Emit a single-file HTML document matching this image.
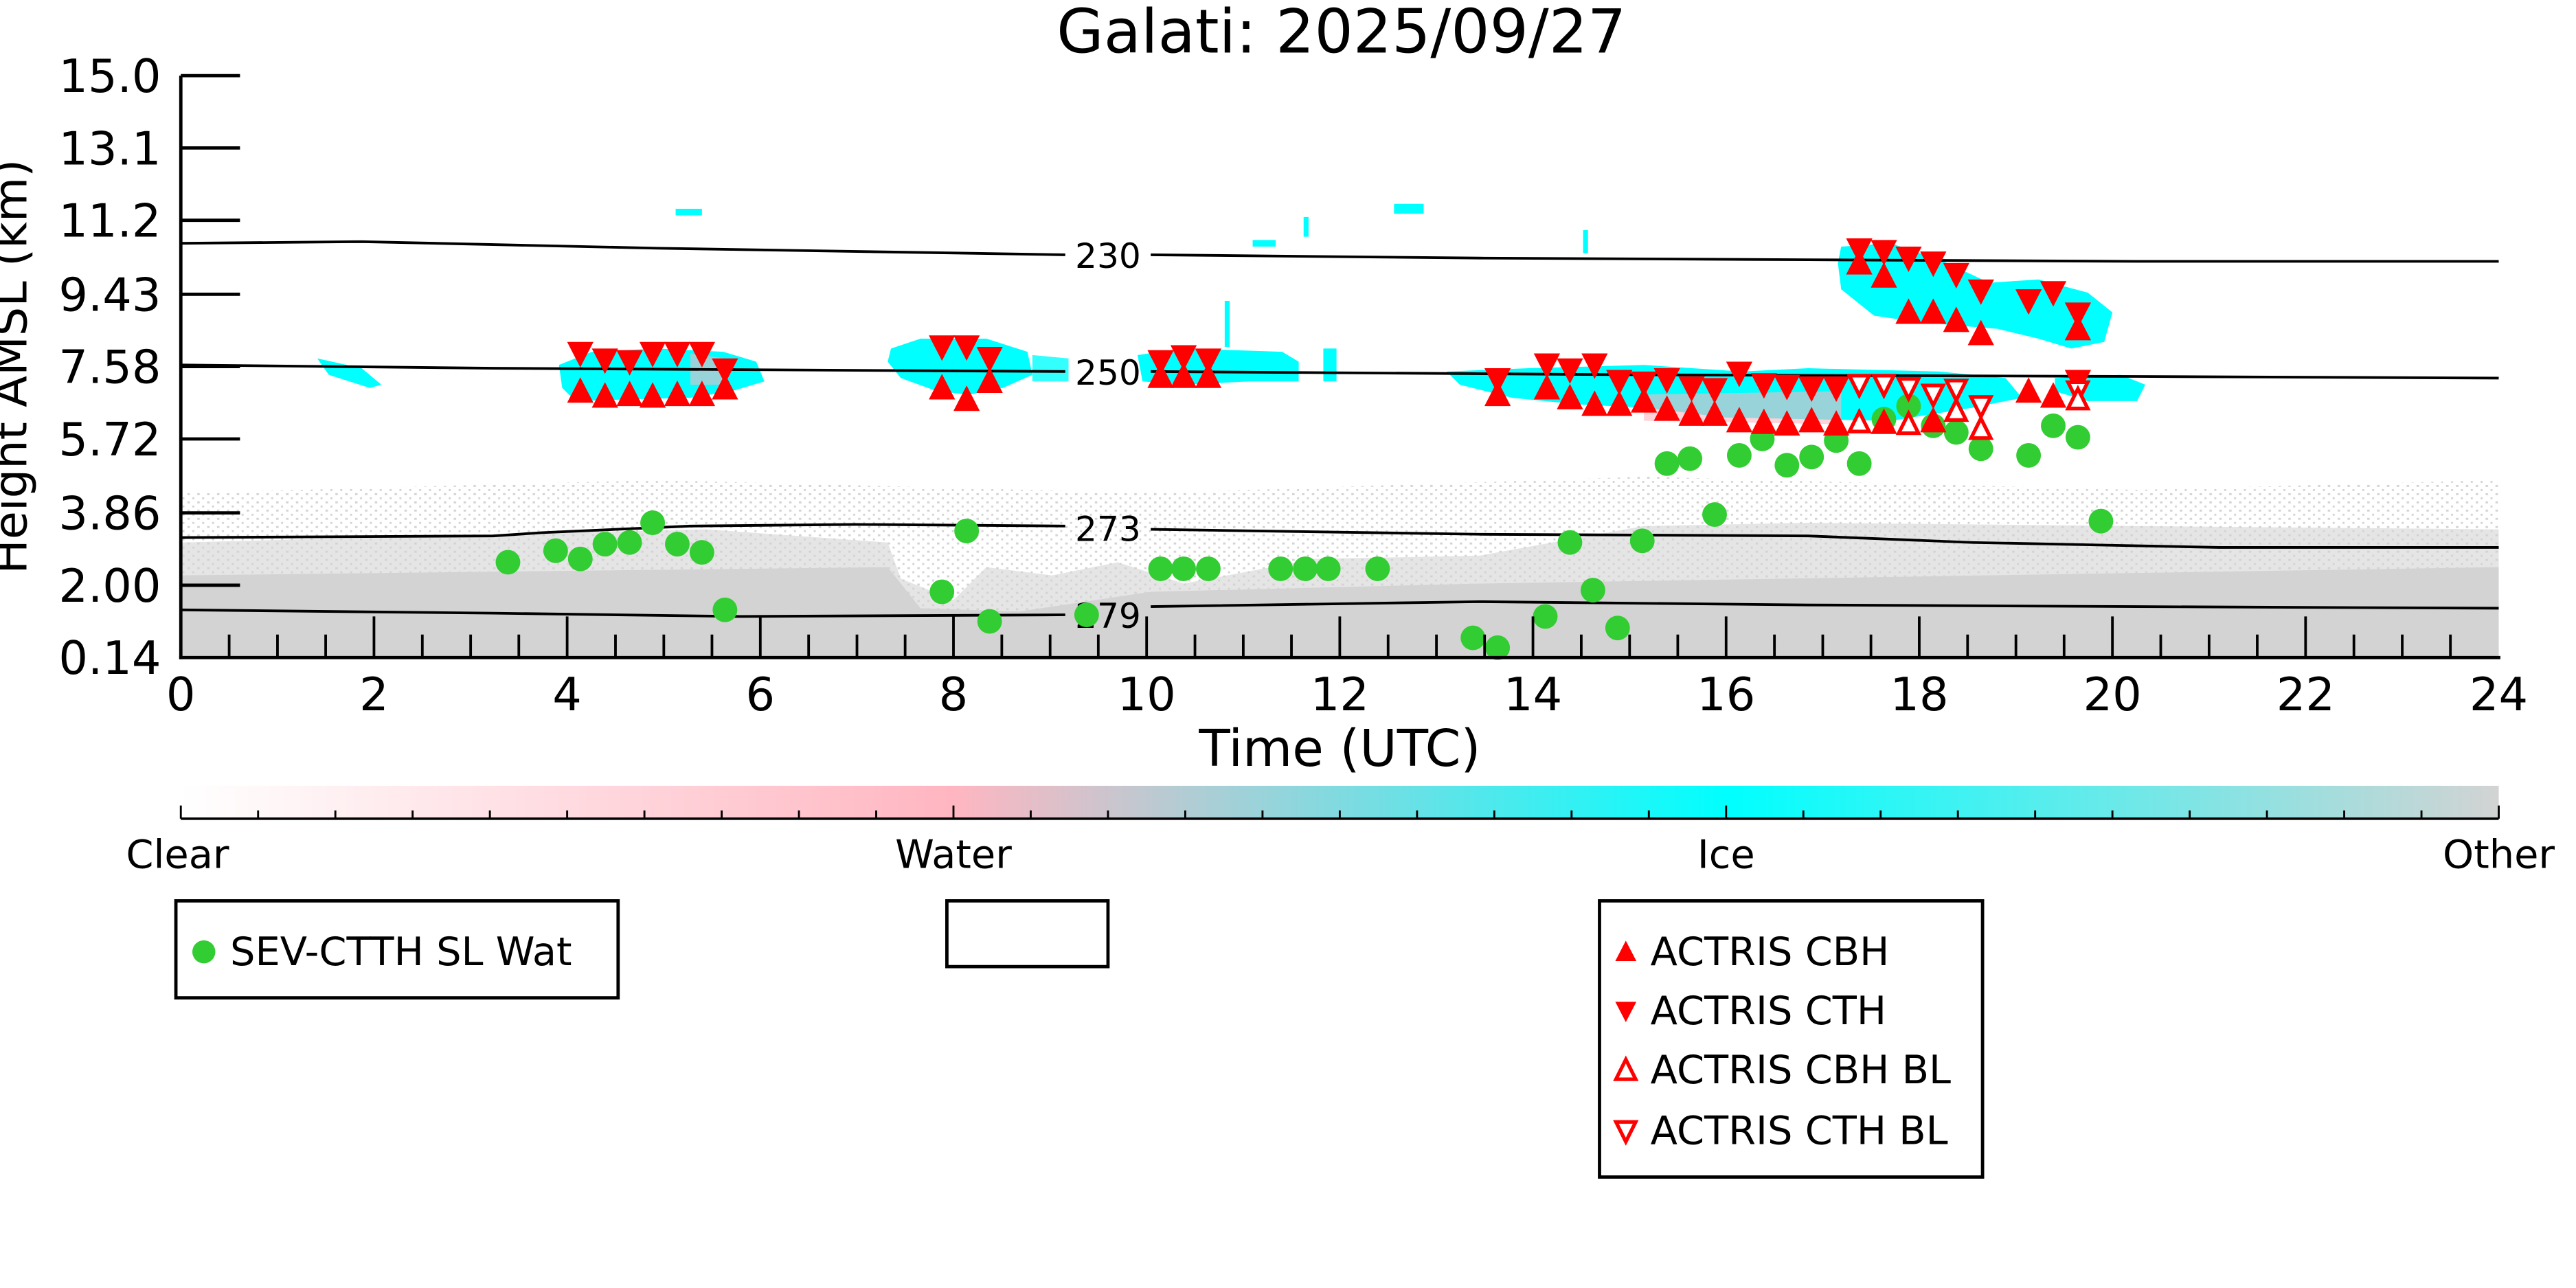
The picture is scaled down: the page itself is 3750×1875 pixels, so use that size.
<!DOCTYPE html>
<html><head><meta charset="utf-8"><style>
html,body{margin:0;padding:0;background:#fff;}
svg{display:block;}
text{font-family:"DejaVu Sans","Liberation Sans",sans-serif;}
</style></head><body>
<svg width="3750" height="1875" viewBox="0 0 1567 783.5" preserveAspectRatio="none" xmlns="http://www.w3.org/2000/svg">
<defs>
<path id="u" d="M0,-8.5 L8,7 L-8,7Z" fill="#ff0000"/>
<path id="d" d="M0,8.5 L8,-7 L-8,-7Z" fill="#ff0000"/>
<path id="uh" d="M0,-6.5 L6,5.5 L-6,5.5Z" fill="#fff" stroke="#ff0000" stroke-width="2.2"/>
<path id="dh" d="M0,6.5 L6,-5.5 L-6,-5.5Z" fill="#fff" stroke="#ff0000" stroke-width="2.2"/>
<linearGradient id="cb" x1="0" x2="1" y1="0" y2="0">
<stop offset="0" stop-color="#ffffff"/>
<stop offset="0.333" stop-color="#ffb6c1"/>
<stop offset="0.667" stop-color="#00ffff"/>
<stop offset="1" stop-color="#d3d3d3"/>
</linearGradient>
<pattern id="dots" width="6" height="5" patternUnits="userSpaceOnUse">
<rect x="0" y="0" width="1.5" height="1.2" fill="#d3d3d3"/><rect x="3" y="2.5" width="1.2" height="1.2" fill="#d3d3d3"/>
</pattern>
</defs>
<rect width="1570" height="790" fill="#fff"/>
<text x="816" y="32" font-size="37" text-anchor="middle">Galati: 2025/09/27</text>

<path d="M110,300 L400,292 L700,300 L1000,290 L1300,298 L1520,292 L1520,400 L110,400Z" fill="url(#dots)"/>
<path d="M110,330 L300,325 L430,322 L540,330 L548,352 L580,365 L600,345 L640,350 L680,342 L720,355 L800,340 L900,338 L1000,320 L1100,318 L1300,320 L1520,322 L1520,400 L110,400Z" fill="#d3d3d3" opacity="0.6"/>
<path d="M110,350 L540,345 L560,370 L620,372 L700,360 L900,355 L1520,345 L1520,400 L110,400Z" fill="#d3d3d3"/>

<g fill="#00ffff">
<path d="M340,222 L360,214 L400,212 L440,214 L460,220 L465,232 L445,238 L420,242 L380,243 L350,244 L342,236Z"/>
<path d="M542,212 L560,206 L600,206 L625,214 L628,228 L610,236 L590,240 L570,238 L548,230 L540,220Z"/>
<path d="M628,216 L650,218 L650,232 L628,232Z" opacity="0.8"/>
<path d="M692,216 L720,212 L780,214 L790,220 L790,232 L760,232 L720,234 L695,232Z"/>
<path d="M193,218 L220,224 L232,234 L225,236 L200,228Z"/>
<path d="M880,226 L930,224 L1000,222 L1060,226 L1100,224 L1180,226 L1220,230 L1230,242 L1200,248 L1150,256 L1100,255 L1050,254 L1000,248 L960,246 L920,242 L888,234Z"/>
<path d="M1250,230 L1290,228 L1305,234 L1300,244 L1270,244 L1250,238Z"/>
<path d="M1120,150 L1150,148 L1180,158 L1210,172 L1240,170 L1270,178 L1285,190 L1280,208 L1260,212 L1240,206 L1215,200 L1190,198 L1160,195 L1140,192 L1120,176 L1118,160Z"/>
<rect x="411" y="127" width="16" height="4"/>
<rect x="848" y="124" width="18" height="6"/>
<rect x="745" y="183" width="3" height="28"/>
<rect x="762" y="146" width="14" height="4"/>
<rect x="793" y="132" width="3" height="12"/>
<rect x="963" y="140" width="3" height="14"/>
<rect x="805" y="212" width="8" height="20"/>
</g>
<path d="M420,215 L440,218 L440,234 L420,234Z M1000,240 L1120,238 L1120,258 L1000,256Z" fill="#ffb6c1" opacity="0.6"/>

<g fill="none" stroke="#000" stroke-width="1.6">
<path d="M110,148 L220,147 L400,151 L648,155"/>
<path d="M700,155 L900,157 L1100,158 L1300,159 L1520,159"/>
<path d="M110,222 L300,224 L648,226"/>
<path d="M700,226 L1000,228 L1300,229 L1520,230"/>
<path d="M110,327 L300,326 L330,324 L420,320 L520,319 L648,320"/>
<path d="M700,322 L900,325 L1100,326 L1200,330 L1350,333 L1520,333"/>
<path d="M110,371 L300,373 L450,375 L648,374"/>
<path d="M700,369 L900,366 L1100,368 L1300,369 L1520,370"/>
</g>
<g font-size="21" text-anchor="middle">
<text x="674" y="163">230</text><text x="674" y="234">250</text>
<text x="674" y="329">273</text><text x="674" y="382">279</text>
</g>

<g fill="#32cd32">
<circle cx="309" cy="342" r="7.5"/><circle cx="338" cy="335" r="7.5"/><circle cx="353" cy="340" r="7.5"/><circle cx="368" cy="331" r="7.5"/><circle cx="383" cy="330" r="7.5"/><circle cx="397" cy="318" r="7.5"/><circle cx="412" cy="331" r="7.5"/><circle cx="427" cy="336" r="7.5"/><circle cx="441" cy="371" r="7.5"/><circle cx="573" cy="360" r="7.5"/><circle cx="588" cy="323" r="7.5"/><circle cx="602" cy="378" r="7.5"/><circle cx="661" cy="374" r="7.5"/><circle cx="706" cy="346" r="7.5"/><circle cx="720" cy="346" r="7.5"/><circle cx="735" cy="346" r="7.5"/><circle cx="779" cy="346" r="7.5"/><circle cx="794" cy="346" r="7.5"/><circle cx="808" cy="346" r="7.5"/><circle cx="838" cy="346" r="7.5"/><circle cx="896" cy="388" r="7.5"/><circle cx="911" cy="394" r="7.5"/><circle cx="940" cy="375" r="7.5"/><circle cx="955" cy="330" r="7.5"/><circle cx="969" cy="359" r="7.5"/><circle cx="984" cy="382" r="7.5"/><circle cx="999" cy="329" r="7.5"/><circle cx="1014" cy="282" r="7.5"/><circle cx="1028" cy="279" r="7.5"/><circle cx="1043" cy="313" r="7.5"/><circle cx="1058" cy="277" r="7.5"/><circle cx="1072" cy="267" r="7.5"/><circle cx="1087" cy="283" r="7.5"/><circle cx="1102" cy="278" r="7.5"/><circle cx="1117" cy="268" r="7.5"/><circle cx="1131" cy="282" r="7.5"/><circle cx="1146" cy="255" r="7.5"/><circle cx="1161" cy="247" r="7.5"/><circle cx="1176" cy="259" r="7.5"/><circle cx="1190" cy="263" r="7.5"/><circle cx="1205" cy="273" r="7.5"/><circle cx="1234" cy="277" r="7.5"/><circle cx="1249" cy="259" r="7.5"/><circle cx="1264" cy="266" r="7.5"/><circle cx="1278" cy="317" r="7.5"/>
</g>

<g>
<use href="#d" x="353" y="215"/><use href="#u" x="353" y="238"/>
<use href="#d" x="368" y="219"/><use href="#u" x="368" y="241"/>
<use href="#d" x="383" y="220"/><use href="#u" x="383" y="240"/>
<use href="#d" x="397" y="215"/><use href="#u" x="397" y="241"/>
<use href="#d" x="412" y="215"/><use href="#u" x="412" y="240"/>
<use href="#d" x="427" y="215"/><use href="#u" x="427" y="240"/>
<use href="#d" x="441" y="225"/><use href="#u" x="441" y="236"/>
<use href="#d" x="573" y="211"/><use href="#u" x="573" y="236"/>
<use href="#d" x="588" y="211"/><use href="#u" x="588" y="243"/>
<use href="#d" x="602" y="218"/><use href="#u" x="602" y="232"/>
<use href="#d" x="706" y="220"/><use href="#u" x="706" y="229"/>
<use href="#d" x="720" y="217"/><use href="#u" x="720" y="229"/>
<use href="#d" x="735" y="219"/><use href="#u" x="735" y="229"/>
<use href="#d" x="911" y="231"/><use href="#u" x="911" y="240"/>
<use href="#d" x="941" y="222"/><use href="#u" x="941" y="236"/>
<use href="#d" x="955" y="225"/><use href="#u" x="955" y="242"/>
<use href="#d" x="970" y="222"/><use href="#u" x="970" y="246"/>
<use href="#d" x="985" y="232"/><use href="#u" x="985" y="246"/>
<use href="#d" x="1000" y="233"/><use href="#u" x="1000" y="244"/>
<use href="#d" x="1014" y="231"/><use href="#u" x="1014" y="249"/>
<use href="#d" x="1029" y="236"/><use href="#u" x="1029" y="252"/>
<use href="#d" x="1043" y="237"/><use href="#u" x="1043" y="252"/>
<use href="#d" x="1058" y="227"/><use href="#u" x="1058" y="256"/>
<use href="#d" x="1073" y="234"/><use href="#u" x="1073" y="257"/>
<use href="#d" x="1087" y="235"/><use href="#u" x="1087" y="258"/>
<use href="#d" x="1102" y="236"/><use href="#u" x="1102" y="256"/>
<use href="#d" x="1117" y="236"/><use href="#u" x="1117" y="258"/>
<use href="#dh" x="1131" y="234"/><use href="#uh" x="1131" y="257"/>
<use href="#dh" x="1146" y="234"/><use href="#u" x="1146" y="257"/>
<use href="#dh" x="1161" y="236"/><use href="#uh" x="1161" y="258"/>
<use href="#dh" x="1176" y="240"/><use href="#u" x="1176" y="256"/>
<use href="#dh" x="1190" y="237"/><use href="#uh" x="1190" y="250"/>
<use href="#dh" x="1205" y="247"/><use href="#uh" x="1205" y="261"/>
<use href="#u" x="1234" y="238"/><use href="#u" x="1249" y="241"/>
<use href="#d" x="1264" y="232"/><use href="#dh" x="1264" y="238"/><use href="#uh" x="1264" y="243"/>
<use href="#d" x="1131" y="152"/><use href="#u" x="1131" y="160"/>
<use href="#d" x="1146" y="153"/><use href="#u" x="1146" y="168"/>
<use href="#d" x="1161" y="157"/><use href="#u" x="1161" y="190"/>
<use href="#d" x="1176" y="160"/><use href="#u" x="1176" y="190"/>
<use href="#d" x="1190" y="167"/><use href="#u" x="1190" y="195"/>
<use href="#d" x="1205" y="177"/><use href="#u" x="1205" y="203"/>
<use href="#d" x="1234" y="183"/><use href="#d" x="1249" y="178"/>
<use href="#d" x="1264" y="191"/><use href="#u" x="1264" y="200"/>
</g>

<g stroke="#000" stroke-width="2">
<line x1="110" y1="46" x2="110" y2="401"/>
<line x1="109" y1="400" x2="1521" y2="400"/>
<line x1="110" y1="46" x2="146" y2="46"/><line x1="110" y1="90" x2="146" y2="90"/>
<line x1="110" y1="134" x2="146" y2="134"/><line x1="110" y1="179" x2="146" y2="179"/>
<line x1="110" y1="223" x2="146" y2="223"/><line x1="110" y1="267" x2="146" y2="267"/>
<line x1="110" y1="312" x2="146" y2="312"/><line x1="110" y1="356" x2="146" y2="356"/>
</g>
<g stroke="#000" stroke-width="1.6">
<path d="M227.5,400V375M345,400V375M462.5,400V375M580,400V375M697.5,400V375M815,400V375M932.5,400V375M1050,400V375M1167.5,400V375M1285,400V375M1402.5,400V375"/>
<path d="M139.4,400V386M168.8,400V386M198.1,400V386M256.9,400V386M286.3,400V386M315.6,400V386M374.4,400V386M403.8,400V386M433.1,400V386M491.9,400V386M521.3,400V386M550.6,400V386M609.4,400V386M638.8,400V386M668.1,400V386M726.9,400V386M756.3,400V386M785.6,400V386M844.4,400V386M873.8,400V386M903.1,400V386M961.9,400V386M991.3,400V386M1020.6,400V386M1079.4,400V386M1108.8,400V386M1138.1,400V386M1196.9,400V386M1226.3,400V386M1255.6,400V386M1314.4,400V386M1343.8,400V386M1373.1,400V386M1431.9,400V386M1461.3,400V386M1490.6,400V386"/>
</g>
<g font-size="28" text-anchor="end">
<text x="98" y="56">15.0</text><text x="98" y="100">13.1</text><text x="98" y="144">11.2</text>
<text x="98" y="189">9.43</text><text x="98" y="233">7.58</text><text x="98" y="277">5.72</text>
<text x="98" y="322">3.86</text><text x="98" y="366">2.00</text><text x="98" y="410">0.14</text>
</g>
<g font-size="28" text-anchor="middle">
<text x="110" y="432">0</text><text x="227.5" y="432">2</text><text x="345" y="432">4</text><text x="462.5" y="432">6</text><text x="580" y="432">8</text><text x="697.5" y="432">10</text><text x="815" y="432">12</text><text x="932.5" y="432">14</text><text x="1050" y="432">16</text><text x="1167.5" y="432">18</text><text x="1285" y="432">20</text><text x="1402.5" y="432">22</text><text x="1520" y="432">24</text>
<text x="815" y="466" font-size="31">Time (UTC)</text>
<text transform="translate(16,223) rotate(-90)" font-size="28">Height AMSL (km)</text>
</g>

<rect x="110" y="478" width="1410" height="20" fill="url(#cb)"/>
<line x1="110" y1="498" x2="1520" y2="498" stroke="#000" stroke-width="1.5"/>
<g stroke="#000" stroke-width="1.2">
<path d="M110,498V490M157,498V493M204,498V493M251,498V493M298,498V493M345,498V493M392,498V493M439,498V493M486,498V493M533,498V493M580,498V490M627,498V493M674,498V493M721,498V493M768,498V493M815,498V493M862,498V493M909,498V493M956,498V493M1003,498V493M1050,498V490M1097,498V493M1144,498V493M1191,498V493M1238,498V493M1285,498V493M1332,498V493M1379,498V493M1426,498V493M1473,498V493M1520,498V490"/>
</g>
<g font-size="24" text-anchor="middle">
<text x="108" y="528">Clear</text><text x="580" y="528">Water</text><text x="1050" y="528">Ice</text><text x="1520" y="528">Other</text>
</g>

<g fill="#fff" stroke="#000" stroke-width="2">
<rect x="107" y="548" width="269" height="59"/>
<rect x="576" y="548" width="98" height="40"/>
<rect x="973" y="548" width="233" height="168"/>
</g>
<circle cx="124" cy="579" r="7" fill="#32cd32"/>
<g font-size="24">
<text x="140" y="587">SEV-CTTH SL Wat</text>
<text x="1004" y="587">ACTRIS CBH</text>
<text x="1004" y="623">ACTRIS CTH</text>
<text x="1004" y="659">ACTRIS CBH BL</text>
<text x="1004" y="696">ACTRIS CTH BL</text>
</g>
<use href="#u" x="989" y="579" transform="translate(989,579) scale(0.8) translate(-989,-579)"/>
<use href="#d" x="989" y="615" transform="translate(989,615) scale(0.8) translate(-989,-615)"/>
<use href="#uh" x="989" y="651"/>
<use href="#dh" x="989" y="688"/>
</svg>
</body></html>
